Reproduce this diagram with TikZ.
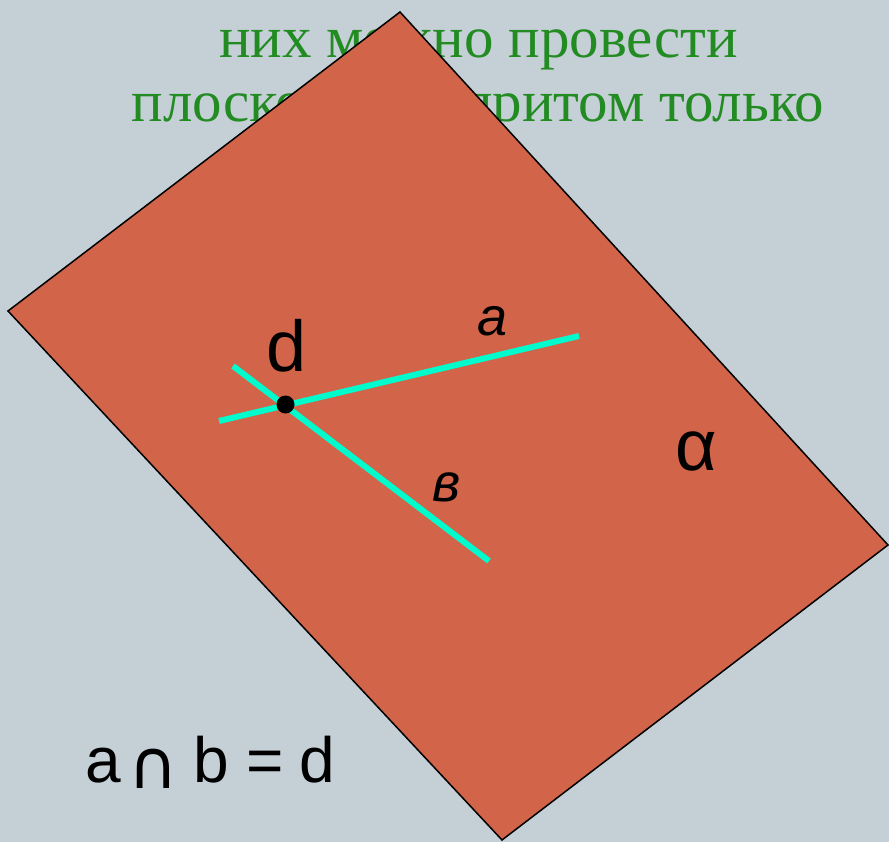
\documentclass[tikz,border=0pt]{standalone}
\usepackage{fontspec}
\setmainfont{Liberation Serif}
\newfontfamily\lsans{Liberation Sans}
\newfontfamily\dvsans{DejaVu Sans}
\definecolor{bgc}{RGB}{197,208,214}
\definecolor{planec}{RGB}{209,100,73}
\definecolor{linec}{RGB}{0,252,204}
\definecolor{textg}{RGB}{34,139,34}
\tikzset{
  plane/.style={fill=planec,draw=black,line width=1.5pt,line join=miter},
  straight/.style={draw=linec,line width=6pt},
  greentext/.style={text=textg,font=\fontsize{59}{59}\selectfont,inner sep=0pt,anchor=base},
  lbl/.style={inner sep=0pt,anchor=base,font=\lsans\fontsize{#1}{#1}\selectfont},
  ilbl/.style={inner sep=0pt,anchor=base,font=\lsans\itshape\fontsize{#1}{#1}\selectfont}
}
\begin{document}
\begin{tikzpicture}[x=1pt,y=-1pt]
\fill[bgc] (0,0) rectangle (889,842);
\useasboundingbox (0,0) rectangle (889,842);
% text behind the plane
\node[greentext] (t2) at (478.5,58) {них можно провести};
\node[greentext] (t3) at (478,122) {плоскость, и притом только};
% plane
\coordinate (pT) at (400,12);
\coordinate (pR) at (888,545);
\coordinate (pB) at (502,840);
\coordinate (pL) at (8,311);
\filldraw[plane] (pT) -- (pR) -- (pB) -- (pL) -- cycle;
% lines
\coordinate (a1) at (219,421);
\coordinate (a2) at (579,336);
\coordinate (b1) at (233,366);
\coordinate (b2) at (489,561);
\draw[straight] (a1) -- (a2);
\draw[straight] (b1) -- (b2);
\node[circle,fill=black,inner sep=0pt,minimum size=18pt] (d) at (285.5,404.5) {};
% labels
\node[lbl=72] (ld) at (287,371) {d};
\node[ilbl=54] (la) at (493,335) {a};
\node[ilbl=54] (lb) at (447,501) {в};
\node[lbl=72] (lalpha) at (696,470) {α};
% formula
\node[lbl=64] (fa) at (103,782) {a};
\node[inner sep=0pt,anchor=base,font=\dvsans\fontsize{68}{68}\selectfont] (fcap) at (153,788) {∩};
\node[lbl=64] (fb) at (211,782) {b};
\node[lbl=64] (feq) at (265,782) {=};
\node[lbl=64] (fd) at (317,782) {d};
\end{tikzpicture}
\end{document}
